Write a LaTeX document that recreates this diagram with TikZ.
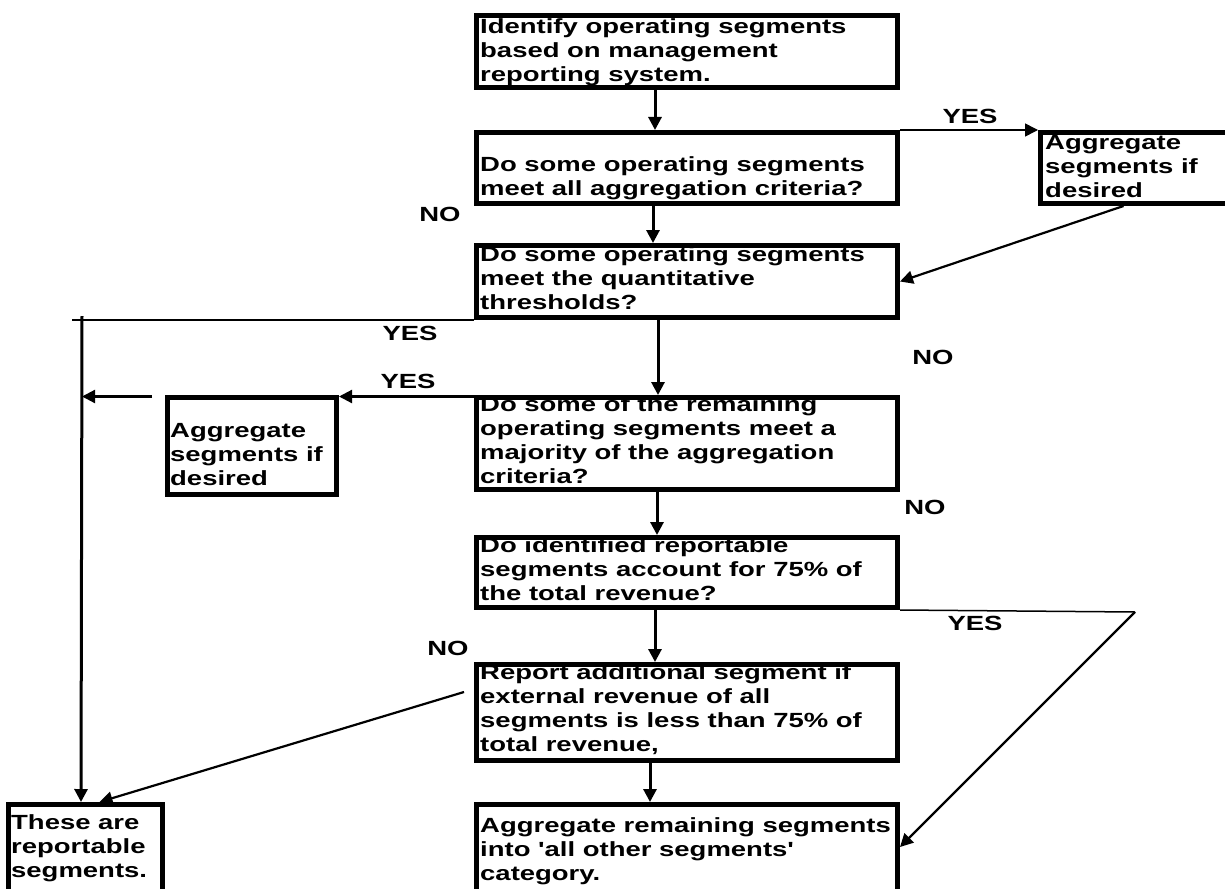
\documentclass[tikz,border=0pt]{standalone}
\usepackage{fontspec}
\setmainfont{Liberation Sans}[FakeStretch=1.34, Ligatures=TeXOff]
\usetikzlibrary{arrows.meta}
\begin{document}
\begin{tikzpicture}[x=1pt,y=-1pt,
  box/.style={draw, line width=5pt, inner sep=0pt, anchor=north west},
  txt/.style={anchor=north west, inner sep=0pt, align=left,
    font=\fontsize{20.5}{24}\selectfont\bfseries},
  lbl/.style={inner sep=0pt, font=\fontsize{20.5}{24}\selectfont\bfseries},
  tip/.style={-{Triangle[length=13pt,width=13pt]}},
  flow/.style={tip, line width=3pt},
  midflow/.style={tip, line width=2.2pt},
  thinflow/.style={tip, line width=1.5pt},
  thinline/.style={line width=1.5pt},
]
\useasboundingbox[fill=white] (0,0) rectangle (1225,888);

% texts (first baseline = node top + 18pt)
\node[txt] (t1) at (480,15.5) {\rule{0pt}{18pt}Identify operating segments\\based on management\\reporting system.};
\node[txt] (t2) at (480,153) {\rule{0pt}{18pt}Do some operating segments\\meet all aggregation criteria?};
\node[txt] (t3) at (480,243) {\rule{0pt}{18pt}Do some operating segments\\meet the quantitative\\thresholds?};
\node[txt] (t4) at (480,393) {\rule{0pt}{18pt}Do some of the remaining\\operating segments meet a\\majority of the aggregation\\criteria?};
\node[txt] (t5) at (480,534) {\rule{0pt}{18pt}Do identified reportable\\segments account for 75\% of\\the total revenue?};
\node[txt] (t6) at (480,661) {\rule{0pt}{18pt}Report additional segment if\\external revenue of all\\segments is less than 75\% of\\total revenue,};
\node[txt] (t7) at (480,814) {\rule{0pt}{18pt}Aggregate remaining segments\\into 'all other segments'\\category.};
\node[txt] (tR) at (1045,131) {\rule{0pt}{18pt}Aggregate\\segments if\\desired};
\node[txt] (tL) at (170,419) {\rule{0pt}{18pt}Aggregate\\segments if\\desired};
\node[txt] (tE) at (11,811) {\rule{0pt}{18pt}These are\\reportable\\segments.};

% boxes
\node[box, minimum width=421pt, minimum height=72pt] (b1) at (474,13) {};
\node[box, minimum width=421pt, minimum height=71pt] (b2) at (474,130) {};
\node[box, minimum width=421pt, minimum height=72pt] (b3) at (474,243) {};
\node[box, minimum width=421pt, minimum height=92pt] (b4) at (474,395) {};
\node[box, minimum width=421pt, minimum height=70pt] (b5) at (474,535) {};
\node[box, minimum width=421pt, minimum height=96pt] (b6) at (474,662) {};
\node[box, minimum width=421pt, minimum height=113pt] (b7) at (474,802) {};
\node[box, minimum width=202pt, minimum height=71pt] (aggR) at (1038,130) {};
\node[box, minimum width=169pt, minimum height=97pt] (aggL) at (165,395) {};
\node[box, minimum width=154pt, minimum height=113pt] (rep) at (6,802) {};

% branch labels
\node[lbl] (yes1) at (970,116) {YES};
\node[lbl] (no1) at (440,214) {NO};
\node[lbl] (yes2) at (410,333) {YES};
\node[lbl] (no2) at (933,357) {NO};
\node[lbl] (yes3) at (408,381) {YES};
\node[lbl] (no3) at (925,507) {NO};
\node[lbl] (yes4) at (975,623) {YES};
\node[lbl] (no4) at (448,648) {NO};

% free ends of the side lines
\coordinate (jl) at (72,320);
\coordinate (jt) at (82,316);
\coordinate (ja) at (152,396.5);
\coordinate (jb) at (82,396.5);
\coordinate (jr) at (1135,612);
\coordinate (jn) at (464,692);

% connectors
\draw[flow] ([xshift=-32pt]b1.south) -- ([xshift=-32pt]b2.north);
\draw[thinflow] (b2.north east) -- (aggR.north west);
\draw[midflow] ([xshift=-18pt]aggR.south) -- (b3.east);
\draw[flow] ([xshift=-34pt]b2.south) -- ([xshift=-34pt]b3.north);
\draw[thinline] (b3.south west) -- (jl);
\draw[flow] (jt) -- ([xshift=-1pt]rep.north -| jt);
\draw[flow] ([xshift=-29pt]b3.south) -- ([xshift=-29pt]b4.north);
\draw[midflow] ([yshift=-1.5pt]b4.north west) -- ([yshift=-1.5pt]aggL.north east);
\draw[midflow] (ja) -- (jb);
\draw[flow] ([xshift=-30pt]b4.south) -- ([xshift=-30pt]b5.north);
\draw[thinline] (b5.south east) -- (jr);
\draw[midflow] (jr) -- ([yshift=14pt]b7.east);
\draw[flow] ([xshift=-32pt]b5.south) -- ([xshift=-32pt]b6.north);
\draw[midflow] (jn) -- ([xshift=14pt]rep.north);
\draw[flow] ([xshift=-37pt]b6.south) -- ([xshift=-37pt]b7.north);
\end{tikzpicture}
\end{document}
